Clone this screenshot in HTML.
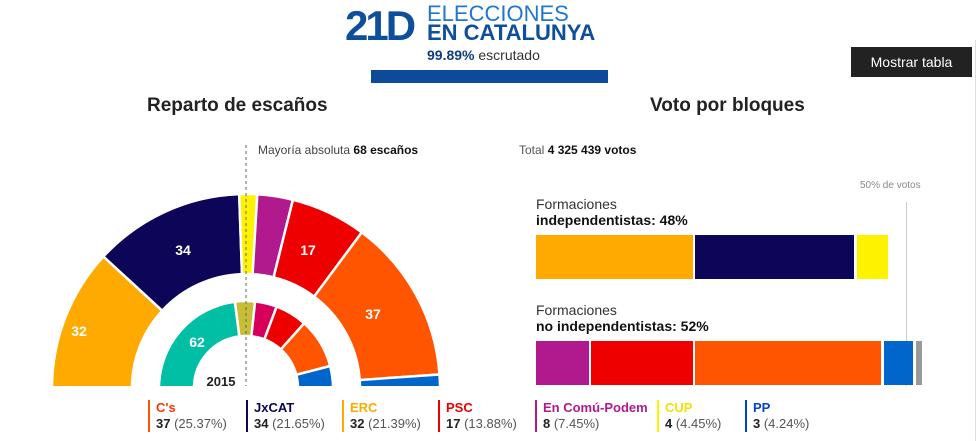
<!DOCTYPE html>
<html><head><meta charset="utf-8"><style>
body{margin:0;width:980px;height:441px;background:#fff;font-family:"Liberation Sans",sans-serif;position:relative;overflow:hidden}
.a{position:absolute;white-space:nowrap}
.lg{position:absolute;top:400px;border-left:2px solid;padding-left:6px;font-size:13px;line-height:16px;color:#555}
.lg b{display:block;font-size:13px}
.lg span{color:#222;font-weight:bold}
</style></head><body>
<div class="a" style="left:345px;top:2px;font-size:42px;font-weight:900;color:#0e4f9c;letter-spacing:-3px">21D</div>
<div class="a" style="left:427px;top:3px;font-size:22px;color:#2277cc;line-height:22px">ELECCIONES</div>
<div class="a" style="left:427px;top:22px;font-size:22px;font-weight:bold;color:#0e4f9c;line-height:22px">EN CATALUNYA</div>
<div class="a" style="left:427px;top:47px;font-size:14px;color:#333"><b style="color:#0e3f7c">99.89%</b> escrutado</div>
<div class="a" style="left:371px;top:70px;width:237px;height:13px;background:#0e4a9a"></div>
<div class="a" style="left:851px;top:47px;width:121px;height:30px;background:#222;color:#fff;font-size:14px;line-height:30px;text-align:center">Mostrar tabla</div>
<div class="a" style="left:975px;top:40px;width:1px;height:401px;background:#ddd"></div>
<div class="a" style="left:147px;top:95px;font-size:19px;font-weight:bold;color:#222">Reparto de escaños</div>
<div class="a" style="left:650px;top:95px;font-size:19px;font-weight:bold;color:#222">Voto por bloques</div>
<div class="a" style="left:258px;top:143px;font-size:12px;color:#444">Mayoría absoluta <b style="color:#111">68 escaños</b></div>
<div class="a" style="left:519px;top:143px;font-size:12px;color:#555">Total <b style="color:#111">4 325 439 votos</b></div>
<svg class="a" style="left:0;top:0" width="500" height="386" id="d"></svg>
<div class="a" style="left:860px;top:180px;font-size:10px;color:#888">50% de votos</div>
<div class="a" style="left:906px;top:202px;width:1px;height:184px;background:#ccc"></div>
<div class="a" style="left:536px;top:196px;font-size:14px;color:#333;line-height:16px">Formaciones<br><b style="color:#111">independentistas: 48%</b></div>
<div class="a" style="left:536px;top:302px;font-size:14px;color:#333;line-height:16px">Formaciones<br><b style="color:#111">no independentistas: 52%</b></div>
<div class="a" style="left:536px;top:235px;width:157px;height:44px;background:#FFAA00"></div>
<div class="a" style="left:695px;top:235px;width:159px;height:44px;background:#0C0558"></div>
<div class="a" style="left:857px;top:235px;width:31px;height:44px;background:#FFF200"></div>
<div class="a" style="left:536px;top:341px;width:53px;height:44px;background:#B01A8E"></div>
<div class="a" style="left:591px;top:341px;width:102px;height:44px;background:#EE0000"></div>
<div class="a" style="left:695px;top:341px;width:186px;height:44px;background:#FF5500"></div>
<div class="a" style="left:884px;top:341px;width:29px;height:44px;background:#0066CC"></div>
<div class="a" style="left:916px;top:341px;width:6px;height:44px;background:#999"></div>
<div class="lg" style="left:148px;border-color:#FF5500"><b style="color:#FF3300">C's</b><span>37</span> (25.37%)</div>
<div class="lg" style="left:246px;border-color:#0C0558"><b style="color:#0C0558">JxCAT</b><span>34</span> (21.65%)</div>
<div class="lg" style="left:342px;border-color:#FFAA00"><b style="color:#FFAA00">ERC</b><span>32</span> (21.39%)</div>
<div class="lg" style="left:438px;border-color:#EE0000"><b style="color:#EE0000">PSC</b><span>17</span> (13.88%)</div>
<div class="lg" style="left:535px;border-color:#B01A8E"><b style="color:#B01A8E">En Comú-Podem</b><span>8</span> (7.45%)</div>
<div class="lg" style="left:657px;border-color:#FFF200"><b style="color:#F5E000">CUP</b><span>4</span> (4.45%)</div>
<div class="lg" style="left:745px;border-color:#0044CC"><b style="color:#0044CC">PP</b><span>3</span> (4.24%)</div>
<script>
var s=document.getElementById('d'),cx=246,cy=388,h='';
function ring(R,r,data){var a=Math.PI;data.forEach(function(d){var b=a-d[0]*Math.PI/135;
function p(rad,t){return (cx+rad*Math.cos(t)).toFixed(1)+' '+(cy-rad*Math.sin(t)).toFixed(1)}
h+='<path d="M'+p(R,a)+' A'+R+' '+R+' 0 0 1 '+p(R,b)+' L'+p(r,b)+' A'+r+' '+r+' 0 0 0 '+p(r,a)+'Z" fill="'+d[1]+'" stroke="#fff" stroke-width="2.5"/>';a=b;});}
ring(194,114,[[32,'#FFAA00'],[34,'#0C0558'],[4,'#FFF200'],[8,'#B01A8E'],[17,'#EE0000'],[37,'#FF5500'],[3,'#0066CC']]);
ring(87,52,[[62,'#00BFA5'],[10,'#C7BE35'],[11,'#D6005A'],[16,'#EE0000'],[25,'#FF5500'],[11,'#0066CC']]);
h+='<line x1="246" y1="145" x2="246" y2="386" stroke="#666" stroke-dasharray="3,3"/>';
[[79,336,'32'],[183,255,'34'],[308,255,'17'],[373,319,'37'],[197,347,'62']].forEach(function(t){h+='<text x="'+t[0]+'" y="'+t[1]+'" fill="#fff" font-size="14" font-weight="bold" text-anchor="middle" font-family="Liberation Sans">'+t[2]+'</text>'});
h+='<text x="221" y="386" fill="#222" font-size="13" font-weight="bold" text-anchor="middle" font-family="Liberation Sans">2015</text>';
s.innerHTML=h;
</script>
</body></html>
